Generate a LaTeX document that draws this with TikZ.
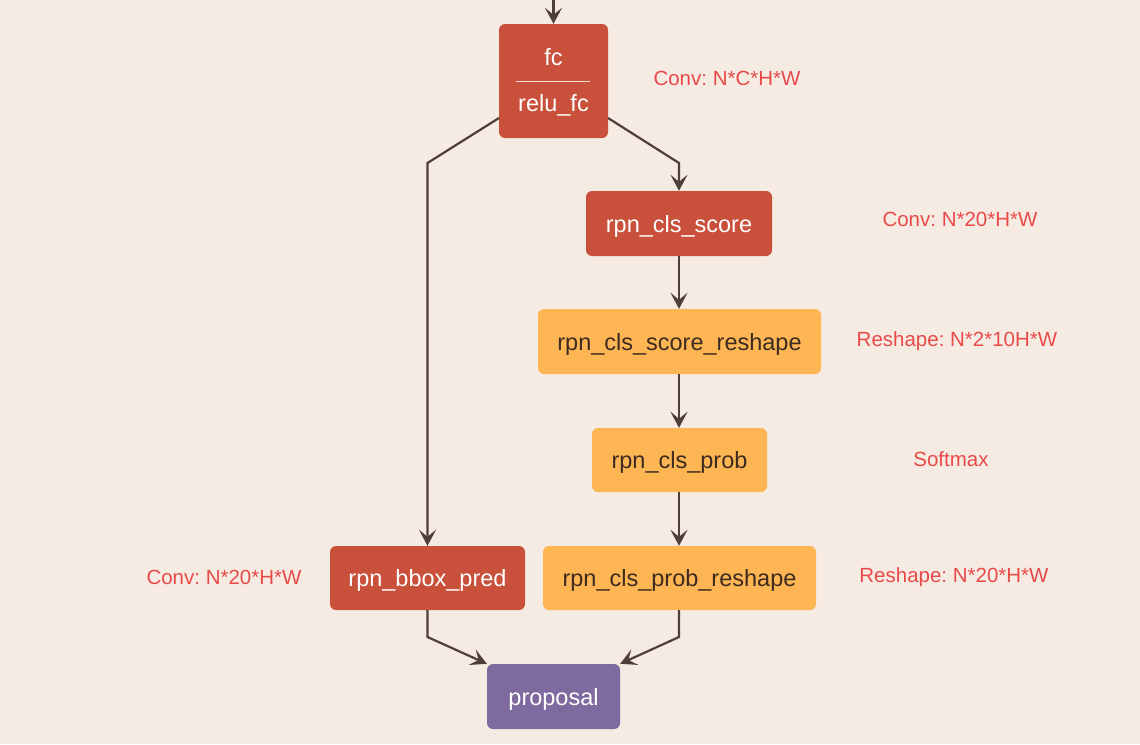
\documentclass[tikz,border=0pt]{standalone}
\usepackage{fontspec}
\setmainfont{Liberation Sans}
\usetikzlibrary{arrows.meta}
\frenchspacing
\definecolor{bg}{HTML}{F6EBE2}
\definecolor{redbox}{HTML}{C9503A}
\definecolor{orangebox}{HTML}{FDB653}
\definecolor{purplebox}{HTML}{7E6A9E}
\definecolor{arrowc}{HTML}{4E3F3A}
\definecolor{labelc}{HTML}{E84A4A}
\definecolor{darktext}{HTML}{3D2A20}
\tikzset{
  box/.style={rounded corners=6pt, inner sep=0pt, font=\fontsize{23.5}{26}\selectfont},
  redb/.style={box, fill=redbox, text=white},
  orangeb/.style={box, fill=orangebox, text=darktext},
  purpleb/.style={box, fill=purplebox, text=white},
  lbl/.style={text=labelc, font=\fontsize{20.5}{23}\selectfont},
  conn/.style={draw=arrowc, line width=2.2pt, -{Stealth[length=16pt,width=17pt,inset=7pt]}},
}
\begin{document}
\begin{tikzpicture}[x=1pt,y=-1pt]
\fill[bg] (0,0) rectangle (1140,744);
\useasboundingbox (0,0) rectangle (1140,744);
% nodes
\node[redb, minimum width=109pt, minimum height=114pt] (fc) at (553.5,81) {};
\node[text=white, font=\fontsize{23.5}{26}\selectfont] (fct) at (553.5,57) {fc};
\node[text=white, font=\fontsize{23.5}{26}\selectfont] (reluf) at (553.5,105) {relu\_fc};
\coordinate (sepl) at (516,81);
\coordinate (sepr) at (590,81);
\draw[white!80!redbox, line width=1pt] (sepl) -- (sepr);
\node[redb, minimum width=186pt, minimum height=65pt] (score) at (679,223.5) {};
\node[text=white, font=\fontsize{23.5}{26}\selectfont] (scoret) at (679,226) {rpn\_cls\_score};
\node[orangeb, minimum width=283pt, minimum height=65pt] (scorer) at (679.5,341.5) {};
\node[text=darktext, font=\fontsize{23.5}{26}\selectfont] (scorert) at (679.5,344) {rpn\_cls\_score\_reshape};
\node[orangeb, minimum width=175pt, minimum height=64pt] (prob) at (679.5,460) {};
\node[text=darktext, font=\fontsize{23.5}{26}\selectfont] (probt) at (679.5,462.5) {rpn\_cls\_prob};
\node[orangeb, minimum width=273pt, minimum height=64pt] (probr) at (679.5,578) {};
\node[text=darktext, font=\fontsize{23.5}{26}\selectfont] (probrt) at (679.5,580.5) {rpn\_cls\_prob\_reshape};
\node[redb, minimum width=195pt, minimum height=64pt] (bbox) at (427.5,578) {};
\node[text=white, font=\fontsize{23.5}{26}\selectfont] (bboxt) at (427.5,580.5) {rpn\_bbox\_pred};
\node[purpleb, minimum width=133pt, minimum height=65pt] (prop) at (553.5,696.5) {};
\node[text=white, font=\fontsize{23.5}{26}\selectfont] (propt) at (553.5,699) {proposal};
% labels
\node[lbl] (l1) at (727,78) {Conv: N*C*H*W};
\node[lbl] (l2) at (960,219) {Conv: N*20*H*W};
\node[lbl] (l3) at (957,341) {Reshape: N*2*10H*W};
\node[lbl] (l4) at (951,459) {Softmax};
\node[lbl] (l5) at (954,577) {Reshape: N*20*H*W};
\node[lbl] (l6) at (224,577) {Conv: N*20*H*W};
% connectors
\coordinate (top) at (553.5,-2);
\draw[conn] (top) -- (fc.north);
\coordinate (fl) at (499,118);
\coordinate (fr) at (608,118);
\draw[conn] (fl) -- (427.5,163) -- (bbox.north);
\draw[conn] (fr) -- (679,163) -- (score.north);
\draw[conn] (score.south) -- (scorer.north -| score.south);
\draw[conn] (scorer.south -| score.south) -- (prob.north -| score.south);
\draw[conn] (prob.south -| score.south) -- (probr.north -| score.south);
\draw[conn] (bbox.south) -- (427.5,637) -- (prop.north west);
\draw[conn] (probr.south -| score.south) -- (679,637) -- (prop.north east);
\end{tikzpicture}
\end{document}
